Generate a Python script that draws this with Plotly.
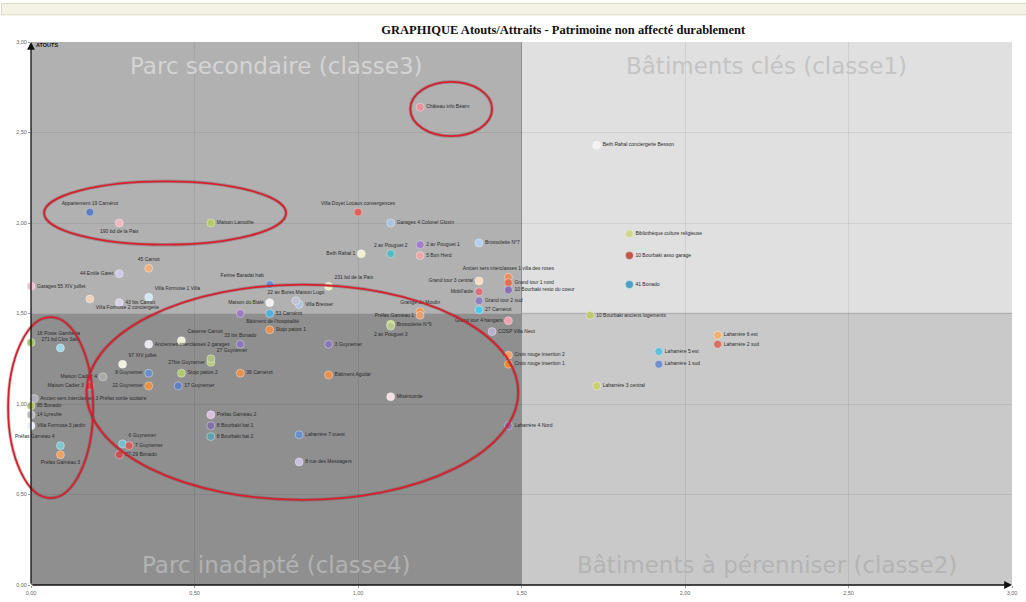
import plotly.graph_objects as go

# Bâtiments du patrimoine non affecté durablement : note d'attraits (x) et d'atouts (y)
batiments = [
    "Château info Béarn", "Beth Rahal conciergerie Besson", "Appartement 19 Carnérot",
    "190 bd de la Paix", "Maison Lamothe", "Villa Doyet Locaux convergences",
    "Garages 4 Colonel Gloxin", "2 av Pouguet 2", "2 av Pouguet 1", "5 Bon Herd",
    "Brossolette N°7", "Beth Rahal 1", "Bibliothèque culture religieuse",
    "10 Bourbaki asso garage", "41 Bonado", "Ancien sers interclasses 1 villa des roses",
    "Grand tour 3 central", "Grand tour 1 nord", "10 Bourbaki resto du coeur", "Mobil'aide",
    "Grand tour 2 sud", "27 Carnérot", "Grand tour 4 hangars", "COSP Villa Neut",
    "Croix rouge insertion 2", "Croix rouge insertion 1", "Laharrère 4 Nord",
    "10 Bourbaki anciens logements", "Laharrère 6 est", "Laharrère 2 sud", "Laharrère 5 est",
    "Laharrère 1 sud", "Laharrère 3 central", "Miséricorde", "Grange du Moulin",
    "Préfas Garnéau 1", "Brossolette N°9", "2 av Pouguet 3", "3 Guynemer", "Bâtiment Aguilar",
    "Laharrère 7 ouest", "8 rue des Messagers", "Préfas Garnéau 2", "8 Bourbaki bat 1",
    "8 Bourbaki bat 2", "36 Carnérot", "Stojo patios 2", "17 Guynemer", "22 Guynemer",
    "8 Guynemer", "Maison Cadier 4", "Maison Cadier 3", "97 XIV juillet", "27bis Guynemer",
    "27 Guynemer", "Anciennes interclasses 2 garages", "Caserne Carnot", "33 bis Bonado",
    "Stojo patios 1", "53 Carnérot", "Bâtiment de l'hospitalité", "Maison du Bialé",
    "Villa Bresser", "22 av Bures Maison Lugo", "Ferme Baradat hab", "231 bd de la Paix",
    "45 Carnot", "44 Emile Garet", "Garages 55 XIV juillet", "Villa Formose 1 Villa",
    "Villa Formose 2 conciergerie", "43 bis Carnot", "16 Poste Gambetta", "271 bd Clos Salé",
    "Ancien sers interclasses 3 Préfas sortie scolaire", "85 Bonado", "14 Lyreuhe",
    "Villa Formose 3 jardin", "Préfas Garnéau 4", "6 Guynemer", "7 Guynemer",
    "27-29 Bonado", "Préfas Garnéau 3",
]

attraits = [
    1.19, 1.73, 0.18, 0.27, 0.55, 1.00, 1.10, 1.10, 1.19, 1.19,
    1.37, 1.01, 1.83, 1.83, 1.83, 1.46, 1.37, 1.46, 1.46, 1.37,
    1.37, 1.37, 1.46, 1.41, 1.46, 1.46, 1.46, 1.71, 2.10, 2.10,
    1.92, 1.92, 1.73, 1.10, 1.19, 1.19, 1.10, 1.10, 0.91, 0.91,
    0.82, 0.82, 0.55, 0.55, 0.55, 0.64, 0.46, 0.45, 0.36, 0.36,
    0.22, 0.18, 0.28, 0.55, 0.55, 0.36, 0.46, 0.64, 0.73, 0.73,
    0.64, 0.73, 0.82, 0.81, 0.73, 0.91, 0.36, 0.27, 0.00, 0.36,
    0.18, 0.27, 0.00, 0.09, 0.01, 0.00, 0.00, 0.00, 0.09, 0.28,
    0.30, 0.27, 0.09,
]

atouts = [
    2.64, 2.43, 2.06, 2.00, 2.00, 2.06, 2.00, 1.83, 1.88, 1.82,
    1.89, 1.83, 1.94, 1.82, 1.66, 1.70, 1.68, 1.67, 1.63, 1.62,
    1.57, 1.52, 1.46, 1.40, 1.27, 1.22, 0.88, 1.49, 1.38, 1.33,
    1.29, 1.22, 1.10, 1.04, 1.51, 1.49, 1.44, 1.43, 1.33, 1.16,
    0.83, 0.68, 0.94, 0.88, 0.82, 1.17, 1.17, 1.10, 1.10, 1.17,
    1.15, 1.10, 1.22, 1.23, 1.25, 1.33, 1.35, 1.33, 1.41, 1.50,
    1.50, 1.56, 1.55, 1.57, 1.66, 1.65, 1.75, 1.72, 1.65, 1.59,
    1.58, 1.56, 1.34, 1.31, 1.03, 0.99, 0.94, 0.88, 0.77, 0.78,
    0.77, 0.72, 0.72,
]

# Placement de chaque étiquette autour de son point
positions_etiquettes = [
    "middle right", "middle right", "top center", "bottom center", "middle right",
    "top center", "middle right", "top center", "middle right", "middle right",
    "middle right", "middle left", "middle right", "middle right", "middle right",
    "top center", "middle left", "middle right", "middle right", "middle left",
    "middle right", "middle right", "middle left", "middle right", "middle right",
    "middle right", "middle right", "middle right", "middle right", "middle right",
    "middle right", "middle right", "middle right", "middle right", "top center",
    "middle left", "middle right", "bottom center", "middle right", "middle right",
    "middle right", "middle right", "middle right", "middle right", "middle right",
    "middle right", "middle right", "middle right", "middle left", "middle left",
    "middle left", "middle left", "top right", "middle left", "top right",
    "middle right", "top right", "top center", "middle right", "middle right",
    "bottom right", "middle left", "middle right", "top center", "top left",
    "top right", "top center", "middle left", "middle right", "top right",
    "bottom right", "middle right", "top right", "top center", "middle right",
    "middle right", "middle right", "middle right", "top left", "top right",
    "middle right", "middle right", "bottom center",
]

couleurs = [
    "#e8909c", "#f2f2f2", "#5b7fc0", "#f0b8c0", "#b5c96a", "#e0605a", "#a8c4e0",
    "#58b8c0", "#a080c8", "#e8a8a8", "#b0d0f0", "#f0f0d0", "#d0d890", "#c05848",
    "#4aa0c0", "#e89060", "#f5dcc0", "#e07050", "#8870b8", "#d87080", "#9080c0",
    "#50c8e8", "#f0a0b0", "#b8b0c8", "#f0a060", "#e88830", "#9070b0", "#c0c870",
    "#f0b070", "#d87060", "#60c0d8", "#7090c8", "#c8d070", "#f5dde5", "#f09050",
    "#e8a070", "#c8e070", "#b8c890", "#8878b8", "#e89048", "#6890c8", "#c8c0e0",
    "#d8c0e0", "#8070a8", "#60a0a8", "#e89050", "#b0c870", "#6080c0", "#e89040",
    "#6890c8", "#a8a8a8", "#e05050", "#f0f0e0", "#b8c878", "#b0c080", "#e8e8f0",
    "#f0f0d8", "#8878b8", "#e89050", "#50b0d8", "#9880c0", "#f0f0f0", "#b0c0e0",
    "#c0c0d0", "#6890d0", "#e8f0c0", "#f0b080", "#d0c8e8", "#f0c0d0", "#d0e8f0",
    "#f0d0b8", "#d8d0e8", "#a8c070", "#a0d8e8", "#b0b0b8", "#b0c070", "#b8b8c0",
    "#e8eef8", "#80c8d0", "#70c0d0", "#d06060", "#c85050", "#f0a060",
]

# Quadrants : (x0, x1, y0, y1, fond, titre, couleur du titre)
quadrants = [
    (0.0, 1.5, 1.5, 3.0, "#b1b1b1", "Parc secondaire (classe3)", "#d4d4d4"),
    (1.5, 3.0, 1.5, 3.0, "#e0e0e0", "Bâtiments clés (classe1)", "#c4c4c4"),
    (0.0, 1.5, 0.0, 1.5, "#8f8f8f", "Parc inadapté (classe4)", "#b2b2b2"),
    (1.5, 3.0, 0.0, 1.5, "#c9c9c9", "Bâtiments à pérenniser (classe2)", "#b4b4b4"),
]

# Zones entourées en rouge (bornes en unités du graphique)
zones = [
    (1.16, 1.41, 2.48, 2.78),
    (0.04, 0.78, 1.88, 2.23),
    (0.17, 1.49, 0.47, 1.66),
    (-0.07, 0.19, 0.48, 1.48),
]

fig = go.Figure()

fig.add_trace(go.Scatter(
    x=attraits, y=atouts, mode="markers+text",
    text=batiments, textposition=positions_etiquettes,
    textfont=dict(family="Liberation Sans", size=5, color="#2a2a2a"),
    marker=dict(size=8, color=couleurs,
                line=dict(width=0.7, color="rgba(255,255,255,0.55)")),
    cliponaxis=False, showlegend=False, hoverinfo="text",
))

shapes = []
annotations = []
for x0, x1, y0, y1, fond, titre, coul in quadrants:
    shapes.append(dict(type="rect", xref="x", yref="y", x0=x0, x1=x1, y0=y0, y1=y1,
                       fillcolor=fond, line=dict(width=0), layer="below"))
    annotations.append(dict(
        x=(x0 + x1) / 2, y=y1 - 0.13 if y0 > 0 else y0 + 0.11, xref="x", yref="y",
        text=titre, showarrow=False,
        font=dict(family="DejaVu Sans", size=23, color=coul)))

# Séparations des quadrants
shapes.append(dict(type="line", xref="x", yref="y", x0=1.5, x1=1.5, y0=0, y1=3,
                   line=dict(color="#9a9a9a", width=1), layer="below"))
shapes.append(dict(type="line", xref="x", yref="y", x0=1.5, x1=3, y0=1.5, y1=1.5,
                   line=dict(color="#bdbdbd", width=1.5), layer="below"))

for x0, x1, y0, y1 in zones:
    shapes.append(dict(type="circle", xref="paper", yref="paper",
                       x0=x0 / 3, x1=x1 / 3, y0=y0 / 3, y1=y1 / 3,
                       line=dict(color="rgba(90,40,40,0.25)", width=3.5)))
    shapes.append(dict(type="circle", xref="paper", yref="paper",
                       x0=x0 / 3, x1=x1 / 3, y0=y0 / 3, y1=y1 / 3,
                       line=dict(color="#d81f2e", width=1.8)))

# Bandeau supérieur de la fenêtre
shapes.append(dict(type="rect", xref="paper", yref="paper",
                   x0=-0.03, x1=1.02, y0=1.05, y1=1.071,
                   fillcolor="#f4f2e4", line=dict(color="#dcd8c0", width=1)))

# Axes fléchés
annotations.append(dict(x=0, y=3, ax=0, ay=0, xref="x", yref="y", axref="x", ayref="y",
                        text="", showarrow=True, arrowhead=2, arrowsize=1.2,
                        arrowwidth=1.3, arrowcolor="#111"))
annotations.append(dict(x=3, y=0, ax=0, ay=0, xref="x", yref="y", axref="x", ayref="y",
                        text="", showarrow=True, arrowhead=2, arrowsize=1.2,
                        arrowwidth=1.3, arrowcolor="#111"))
annotations.append(dict(x=0.01, y=2.985, xref="x", yref="y", xanchor="left", yanchor="middle",
                        text="<b>ATOUTS</b>", showarrow=False,
                        font=dict(family="Liberation Sans", size=5.5, color="#111")))
annotations.append(dict(x=2.98, y=-0.015, xref="x", yref="y", xanchor="right", yanchor="top",
                        text="<b>ATTRAITS</b>", showarrow=False,
                        font=dict(family="Liberation Sans", size=5.5, color="#111")))

axe = dict(range=[0, 3], dtick=0.5, tickformat=".2f", showgrid=True,
           gridcolor="rgba(0,0,0,0.07)", zeroline=False, showline=False,
           ticks="outside", ticklen=2, tickcolor="#999", automargin=False,
           tickfont=dict(family="Liberation Sans", size=5.5, color="#666"),
           fixedrange=True)

fig.update_layout(
    width=1026, height=602,
    margin=dict(l=31, r=14, t=42, b=17, autoexpand=False),
    paper_bgcolor="white", plot_bgcolor="white",
    separators=",.",
    title=dict(text="<b>GRAPHIQUE Atouts/Attraits - Patrimoine non affecté durablement</b>",
               x=0.549, xanchor="center", y=0.95, yanchor="middle",
               font=dict(family="Liberation Serif", size=12.5, color="#111")),
    shapes=shapes, annotations=annotations,
    xaxis=axe, yaxis=axe,
)

fig.write_html("out.html")
